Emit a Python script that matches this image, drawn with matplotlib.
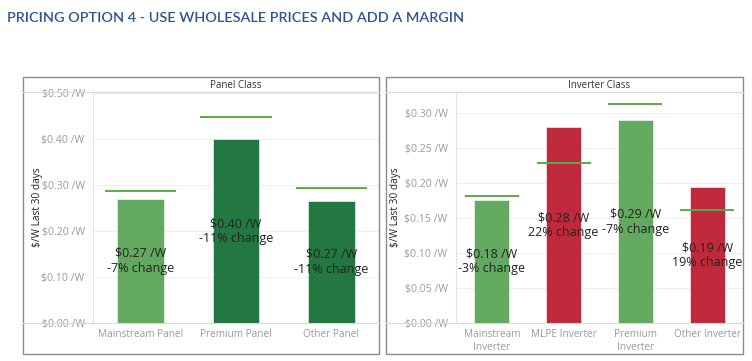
import matplotlib.pyplot as plt
from matplotlib.patches import Rectangle
from matplotlib.lines import Line2D

# panel class data
panel_cats = ['Mainstream Panel', 'Premium Panel', 'Other Panel']
panel_price = [0.271, 0.400, 0.266]
panel_ref = [0.288, 0.448, 0.295]
panel_change = ['-7%', '-11%', '-11%']
panel_colors = ['#63A95F', '#227840', '#227840']

# inverter class data
inv_cats = ['Mainstream\nInverter', 'MLPE Inverter', 'Premium\nInverter', 'Other Inverter']
inv_price = [0.176, 0.280, 0.290, 0.194]
inv_ref = [0.181, 0.229, 0.313, 0.162]
inv_change = ['-3%', '22%', '-7%', '19%']
inv_colors = ['#63A95F', '#BE2A3C', '#63A95F', '#BE2A3C']

W, H = 752, 361
plt.rcParams['font.family'] = ['Open Sans', 'DejaVu Sans']

fig = plt.figure(figsize=(W / 100, H / 100), dpi=100)


def fx(x):
    return x / W


def fy(y):
    return 1 - y / H


fig.text(fx(7), fy(18), 'PRICING OPTION 4 - USE WHOLESALE PRICES AND ADD A MARGIN',
         color='#2F5496', fontsize=10.4, fontweight='semibold', family='Lato',
         va='center', ha='left')


def draw_panel(box_x0, box_x1, ax_x0, title, cats, price, ref, change, colors, ymax, yticks):
    top, head, bot, box_bot = 77, 92, 323, 354
    # outer box
    fig.patches.append(Rectangle((fx(box_x0), fy(box_bot)), fx(box_x1 - box_x0), (box_bot - top) / H,
                                 transform=fig.transFigure, fill=False, ec='#8A8A8A', lw=1.0))
    fig.lines.append(Line2D([fx(box_x0), fx(box_x1)], [fy(head), fy(head)],
                            transform=fig.transFigure, color='#D9D9D9', lw=0.8))
    fig.lines.append(Line2D([fx(box_x0), fx(box_x1)], [fy(bot), fy(bot)],
                            transform=fig.transFigure, color='#D9D9D9', lw=0.8))
    fig.lines.append(Line2D([fx(ax_x0), fx(ax_x0)], [fy(bot), fy(head)],
                            transform=fig.transFigure, color='#E3E3E3', lw=0.8))
    fig.text(fx((ax_x0 + box_x1) / 2), fy((top + head) / 2 + 0.5), title,
             ha='center', va='center', fontsize=7, color='#333333')

    ax = fig.add_axes([fx(ax_x0), fy(bot), fx(box_x1 - ax_x0), (bot - head) / H])
    x = range(len(cats))
    ax.bar(x, price, width=0.49, color=colors, edgecolor='white', linewidth=0.4, zorder=2)
    for i, r in enumerate(ref):
        ax.hlines(r, i - 0.375, i + 0.375, color='#5AAA48', lw=1.4, zorder=3)
    for i, (p, c) in enumerate(zip(price, change)):
        ax.text(i, p / 2, f'${p:.2f} /W\n{c} change', ha='center', va='center',
                fontsize=9, color='#222222', linespacing=1.2, zorder=4)
    ax.set_xlim(-0.5, len(cats) - 0.5)
    ax.set_ylim(0, ymax)
    ax.set_yticks(yticks)
    ax.set_yticklabels([f'${v:.2f} /W' for v in yticks])
    ax.set_xticks(list(x))
    ax.set_xticklabels(cats)
    ax.tick_params(length=0, labelcolor='#9A9A9A')
    ax.tick_params(axis='y', pad=6, labelsize=7.6)
    ax.tick_params(axis='x', pad=4, labelsize=7.2)
    for lbl in ax.get_xticklabels():
        lbl.set_linespacing(1.35)
    ax.grid(axis='y', color='#EFEFEF', lw=0.8, zorder=0)
    for s in ax.spines.values():
        s.set_visible(False)
    ax.set_ylabel('$/W Last 30 days', fontsize=7.3, color='#222222')
    return ax


ax1 = draw_panel(23, 379, 93, 'Panel Class', panel_cats, panel_price, panel_ref,
                 panel_change, panel_colors, 0.503, [0.0, 0.1, 0.2, 0.3, 0.4, 0.5])
ax1.yaxis.set_label_coords(-(93 - 43) / 286, 0.5)
ax2 = draw_panel(386, 743, 456, 'Inverter Class', inv_cats, inv_price, inv_ref,
                 inv_change, inv_colors, 0.33, [0.0, 0.05, 0.1, 0.15, 0.2, 0.25, 0.3])
ax2.yaxis.set_label_coords(-(456 - 401) / 287, 0.5)

fig.savefig('out.png', dpi=100)
